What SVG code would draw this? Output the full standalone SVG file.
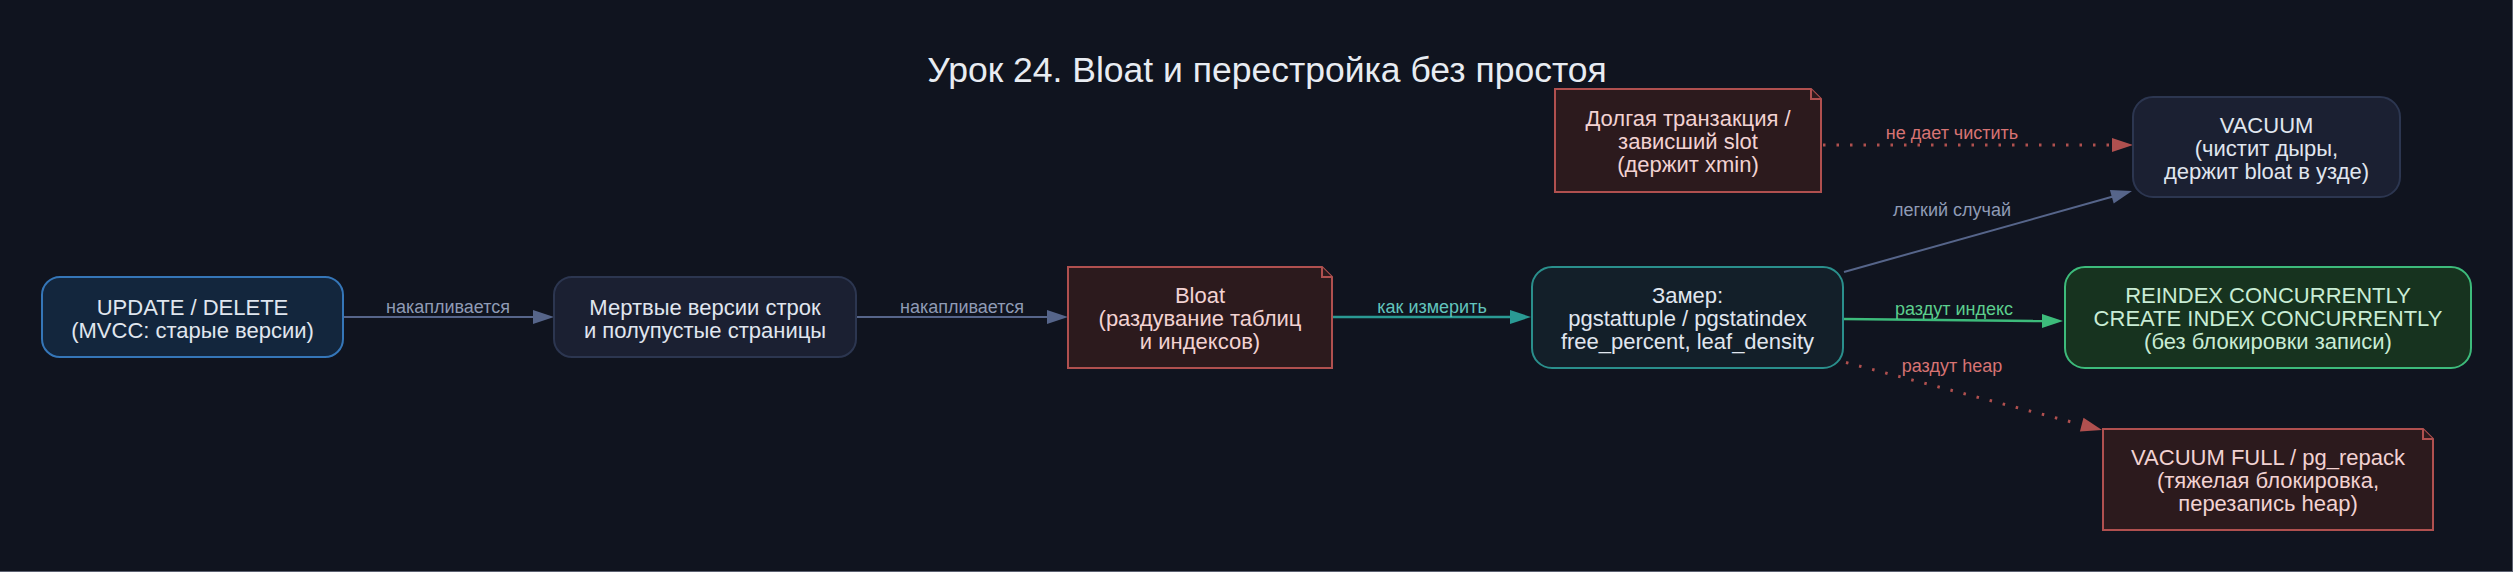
<svg xmlns="http://www.w3.org/2000/svg" width="2513" height="572" viewBox="0 0 2513 572">
<style>
text{font-family:"Liberation Sans",Arial,sans-serif;text-anchor:middle}
.nt{font-size:22px}
.lb{font-size:18px}
.title{font-size:35.5px;fill:#e8ecf2}
.slate{fill:#1b2032;stroke:#2c3650;stroke-width:2}
.note{fill:#2c1a1d;stroke:#b0504f;stroke-width:2}
.tnote{fill:#f2d2d2}
.tlight{fill:#e0e6ef}
.e-slate{stroke:#56658a;stroke-width:2;fill:none}
.e-teal{stroke:#2a9a94;stroke-width:2.5;fill:none}
.e-green{stroke:#3dbb7b;stroke-width:2.5;fill:none}
.e-red{stroke:#b0504f;stroke-width:3;fill:none;stroke-dasharray:2.5 11}
.a-slate{fill:#56658a}
.a-teal{fill:#2a9a94}
.a-green{fill:#3dbb7b}
.a-red{fill:#b0504f}
.l-slate{fill:#8f9bb5}
.l-teal{fill:#62c4bd}
.l-green{fill:#5ccf8e}
.l-red{fill:#d77373}
</style>
<rect x="0" y="0" width="2513" height="572" fill="#10141f"/>
<line x1="2512.5" y1="0" x2="2512.5" y2="572" stroke="#5b6070" stroke-width="1"/>
<line x1="0" y1="571.5" x2="2513" y2="571.5" stroke="#5b6070" stroke-width="1"/>
<text class="title" x="1267" y="82">Урок 24. Bloat и перестройка без простоя</text>

<g id="connectors">
  <g id="e1">
    <line class="e-slate" x1="343" y1="317" x2="534" y2="317"/>
    <polygon class="a-slate" points="533,310 554,317 533,324"/>
    <text class="lb l-slate" x="448" y="313">накапливается</text>
  </g>
  <g id="e2">
    <line class="e-slate" x1="856" y1="317" x2="1048" y2="317"/>
    <polygon class="a-slate" points="1047,310 1068,317 1047,324"/>
    <text class="lb l-slate" x="962" y="313">накапливается</text>
  </g>
  <g id="e3">
    <line class="e-teal" x1="1332" y1="317" x2="1511" y2="317"/>
    <polygon class="a-teal" points="1510,310 1531,317 1510,324"/>
    <text class="lb l-teal" x="1432" y="313">как измерить</text>
  </g>
  <g id="e4">
    <line class="e-red" x1="1823" y1="145" x2="2110" y2="145"/>
    <polygon class="a-red" points="2112,138 2133,145 2112,152"/>
    <text class="lb l-red" x="1952" y="139">не дает чистить</text>
  </g>
  <g id="e5">
    <line class="e-slate" x1="1844" y1="272" x2="2113" y2="196.5"/>
    <polygon class="a-slate" points="2113.7,203.4 2132,191 2109.9,190"/>
    <text class="lb l-slate" x="1952" y="216">легкий случай</text>
  </g>
  <g id="e6">
    <line class="e-green" x1="1843" y1="319" x2="2043" y2="321"/>
    <polygon class="a-green" points="2042,314 2063,321 2042,328"/>
    <text class="lb l-green" x="1954" y="315">раздут индекс</text>
  </g>
  <g id="e7">
    <line class="e-red" x1="1846" y1="362.5" x2="2081" y2="424.5"/>
    <polygon class="a-red" points="2083.5,417.8 2102,430 2079.9,431.4"/>
    <text class="lb l-red" x="1952" y="372">раздут heap</text>
  </g>
</g>

<g id="n_update">
  <rect x="42" y="277" width="301" height="80" rx="18" fill="#13263d" stroke="#3576b8" stroke-width="2"/>
  <text class="nt tlight" x="192.5" y="314.5">UPDATE / DELETE</text>
  <text class="nt tlight" x="192.5" y="337.5">(MVCC: старые версии)</text>
</g>
<g id="n_dead">
  <rect class="slate" x="554" y="277" width="302" height="80" rx="18"/>
  <text class="nt tlight" x="705" y="314.5">Мертвые версии строк</text>
  <text class="nt tlight" x="705" y="337.5">и полупустые страницы</text>
</g>
<g id="n_bloat">
  <path class="note" d="M1068,267 L1322,267 L1332,277 L1332,368 L1068,368 Z"/>
  <path class="note" d="M1322,267 L1322,277 L1332,277"/>
  <text class="nt tnote" x="1200" y="303">Bloat</text>
  <text class="nt tnote" x="1200" y="326">(раздувание таблиц</text>
  <text class="nt tnote" x="1200" y="349">и индексов)</text>
</g>
<g id="n_measure">
  <rect x="1532" y="267" width="311" height="101" rx="20" fill="#131f29" stroke="#2a8f8c" stroke-width="2"/>
  <text class="nt tlight" x="1687.5" y="303">Замер:</text>
  <text class="nt tlight" x="1687.5" y="326">pgstattuple / pgstatindex</text>
  <text class="nt tlight" x="1687.5" y="349">free_percent, leaf_density</text>
</g>
<g id="n_longtx">
  <path class="note" d="M1555,89 L1811,89 L1821,99 L1821,192 L1555,192 Z"/>
  <path class="note" d="M1811,89 L1811,99 L1821,99"/>
  <text class="nt tnote" x="1688" y="126">Долгая транзакция /</text>
  <text class="nt tnote" x="1688" y="149">зависший slot</text>
  <text class="nt tnote" x="1688" y="172">(держит xmin)</text>
</g>
<g id="n_vacuum">
  <rect class="slate" x="2133" y="97" width="267" height="100" rx="20"/>
  <text class="nt tlight" x="2266.5" y="133">VACUUM</text>
  <text class="nt tlight" x="2266.5" y="156">(чистит дыры,</text>
  <text class="nt tlight" x="2266.5" y="179">держит bloat в узде)</text>
</g>
<g id="n_reindex">
  <rect x="2065" y="267" width="406" height="101" rx="20" fill="#17331f" stroke="#3dbb7b" stroke-width="2"/>
  <text class="nt" fill="#c9ecd5" x="2268" y="303">REINDEX CONCURRENTLY</text>
  <text class="nt" fill="#c9ecd5" x="2268" y="326">CREATE INDEX CONCURRENTLY</text>
  <text class="nt" fill="#c9ecd5" x="2268" y="349">(без блокировки записи)</text>
</g>
<g id="n_vfull">
  <path class="note" d="M2103,429 L2423,429 L2433,439 L2433,530 L2103,530 Z"/>
  <path class="note" d="M2423,429 L2423,439 L2433,439"/>
  <text class="nt tnote" x="2268" y="465">VACUUM FULL / pg_repack</text>
  <text class="nt tnote" x="2268" y="488">(тяжелая блокировка,</text>
  <text class="nt tnote" x="2268" y="511">перезапись heap)</text>
</g>
</svg>
